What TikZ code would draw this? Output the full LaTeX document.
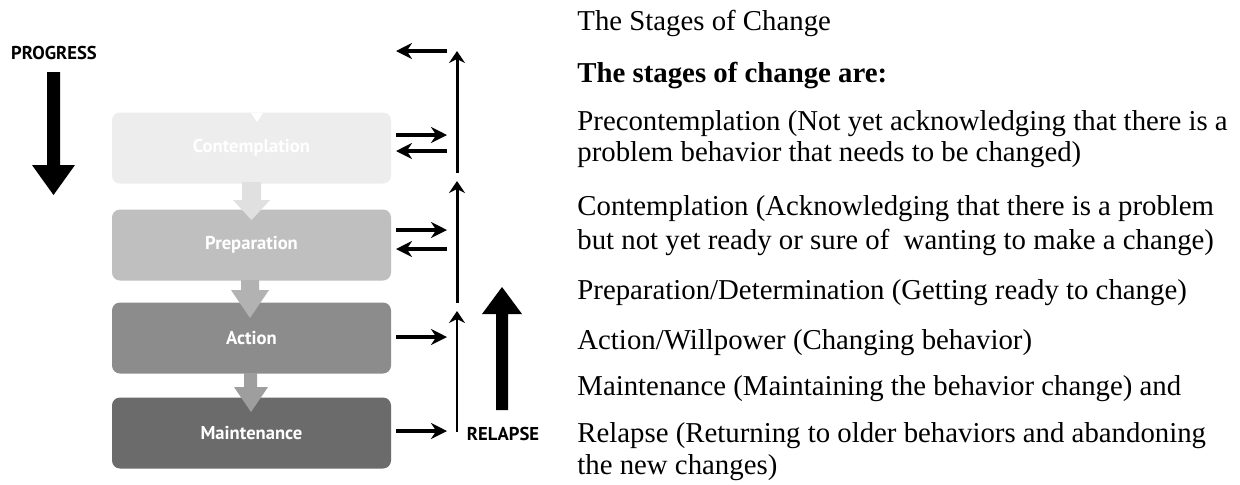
\documentclass[tikz,border=0pt]{standalone}
\usepackage{fontspec}
\setmainfont{Liberation Serif}
\newfontfamily\labelfont{PT Sans}
\usetikzlibrary{arrows.meta}
\begin{document}
\begin{tikzpicture}[x=0.5pt,y=-0.5pt,
  stagebox/.style={draw=none, rounded corners=4pt, minimum width=139.5pt, minimum height=35.5pt, inner sep=0pt,
    font=\labelfont\bfseries\fontsize{9.3pt}{11pt}\selectfont, text=white},
  listline/.style={anchor=base west, inner sep=0pt, font=\fontsize{14.4pt}{16pt}\selectfont},
  sidearrow/.style={line width=2pt, -{Stealth[length=8pt,width=8pt]}},
  uparrow/.style={line width=1.5pt, -{Stealth[length=6pt,width=8pt]}},
  bigarrow/.style={fill=black, draw=none},
  sidelabel/.style={font=\labelfont\bfseries\fontsize{9.3pt}{11pt}\selectfont, inner sep=0pt},
  flowarrow/.style={draw=none}
]
\useasboundingbox[fill=white] (0,0) rectangle (1240,484);

% left labels and big arrows
\node[sidelabel] (progress) at (54,53) {PROGRESS};
\fill[bigarrow] (47,72) -- (60,72) -- (60,165) -- (75,165) -- (53.5,195) -- (32,165) -- (47,165) -- cycle;

% stage boxes
\node[stagebox, fill=black!7]  (contemplation) at (251.5,148) {Contemplation};
\node[stagebox, fill=black!25] (preparation)   at (251.5,245) {Preparation};
\node[stagebox, fill=black!45] (action)        at (251.5,338) {Action};
\node[stagebox, fill=black!58] (maintenance)   at (251.5,433) {Maintenance};

% notch at top of first box
\fill[white] (251,113) -- (263,113) -- (257,122) -- cycle;

% flow arrows between boxes
\fill[flowarrow, fill=black!12] (242,182) -- (261,182) -- (261,200) -- (270,200) -- (251.5,220) -- (233,200) -- (242,200) -- cycle;
\fill[flowarrow, fill=black!30] (241,280) -- (259,280) -- (259,290) -- (269,290) -- (250,318) -- (231,290) -- (241,290) -- cycle;
\fill[flowarrow, fill=black!38] (244,373) -- (257,373) -- (257,387) -- (268,387) -- (251,412) -- (234,387) -- (244,387) -- cycle;

% right-hand arrows
\coordinate (a0s) at (447,51);  \coordinate (a0e) at (396,51);
\coordinate (a1s) at (396,135); \coordinate (a1e) at (447,135);
\coordinate (a2s) at (447,151); \coordinate (a2e) at (396,151);
\coordinate (a3s) at (396,230); \coordinate (a3e) at (447,230);
\coordinate (a4s) at (447,249); \coordinate (a4e) at (396,249);
\coordinate (a5s) at (396,337); \coordinate (a5e) at (447,337);
\coordinate (a6s) at (396,431); \coordinate (a6e) at (447,431);
\draw[sidearrow] (a0s) -- (a0e);
\draw[sidearrow] (a1s) -- (a1e);
\draw[sidearrow] (a2s) -- (a2e);
\draw[sidearrow] (a3s) -- (a3e);
\draw[sidearrow] (a4s) -- (a4e);
\draw[sidearrow] (a5s) -- (a5e);
\draw[sidearrow] (a6s) -- (a6e);

\coordinate (v1s) at (457,173); \coordinate (v1e) at (457,51);
\coordinate (v2s) at (457,303); \coordinate (v2e) at (457,181);
\coordinate (v3s) at (457,432); \coordinate (v3e) at (457,311);
\draw[uparrow] (v1s) -- (v1e);
\draw[uparrow] (v2s) -- (v2e);
\draw[uparrow, line width=1.2pt] (v3s) -- (v3e);

\fill[bigarrow] (496,410) -- (508,410) -- (508,314) -- (522,314) -- (502,287) -- (482,314) -- (496,314) -- cycle;
\node[sidelabel] (relapse) at (503,434) {RELAPSE};

% text column
\node[listline] (l1)  at (577,30)  {The Stages of Change};
\node[listline] (l2)  at (577,82)  {\bfseries The stages of change are:};
\node[listline] (l3)  at (577,130) {Precontemplation (Not yet acknowledging that there is a};
\node[listline] (l4)  at (577,161) {problem behavior that needs to be changed)};
\node[listline] (l5)  at (577,215) {Contemplation (Acknowledging that there is a problem};
\node[listline] (l6)  at (577,249) {but not yet ready or sure of \ wanting to make a change)};
\node[listline] (l7)  at (577,299) {Preparation/Determination (Getting ready to change)};
\node[listline] (l8)  at (577,349) {Action/Willpower (Changing behavior)};
\node[listline] (l9)  at (577,395) {Maintenance (Maintaining the behavior change) and};
\node[listline] (l10) at (577,442) {Relapse (Returning to older behaviors and abandoning};
\node[listline] (l11) at (577,474) {the new changes)};
\end{tikzpicture}
\end{document}
